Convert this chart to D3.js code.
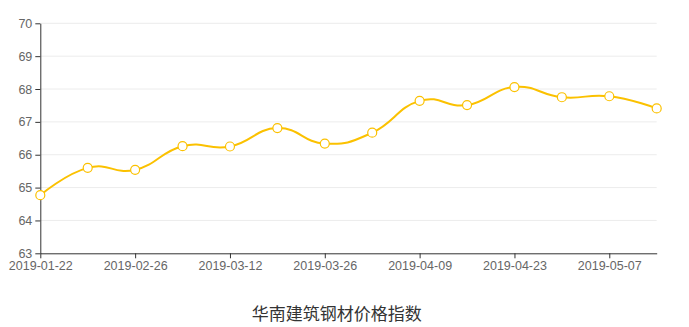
<!DOCTYPE html>
<html>
<head>
<meta charset="utf-8">
<script src="https://cdn.jsdelivr.net/npm/d3@7"></script>
<style>
  html, body { margin: 0; padding: 0; background: #fff; }
  svg { display: block; font-family: "Noto Sans CJK SC", "Noto Sans", sans-serif; }
</style>
</head>
<body>
<div id="visualization"></div>
<script>
// weekly dates (category axis, every 2nd label shown)
const dates = ['2019-01-22', '2019-02-19', '2019-02-26', '2019-03-05', '2019-03-12', '2019-03-19', '2019-03-26',
  '2019-04-02', '2019-04-09', '2019-04-16', '2019-04-23', '2019-04-30', '2019-05-07', '2019-05-14'];
const indexValues = [64.77, 65.60, 65.54, 66.26, 66.25, 66.81, 66.34, 66.67, 67.64, 67.51, 68.06, 67.75, 67.78, 67.41];
const yTicks = [63, 64, 65, 66, 67, 68, 69, 70];
const chartTitle = '华南建筑钢材价格指数';

const width = 689, height = 327;
const margin = { top: 23.3, right: 32.3, bottom: 73.7, left: 40.3 };
const lineColor = '#fbc100';

const svg = d3.select('#visualization')
  .append('svg')
  .attr('width', width)
  .attr('height', height);

const x = d3.scalePoint()
  .domain(dates)
  .range([margin.left, width - margin.right]);

const y = d3.scaleLinear()
  .domain([63, 70])
  .range([height - margin.bottom, margin.top]);

// horizontal split lines
svg.append('g')
  .selectAll('line')
  .data(yTicks.slice(1))
  .join('line')
  .attr('x1', margin.left)
  .attr('x2', width - margin.right)
  .attr('y1', d => y(d))
  .attr('y2', d => y(d))
  .attr('stroke', '#ececec')
  .attr('stroke-width', 1);

// y axis
const yAxis = svg.append('g')
  .attr('transform', `translate(${margin.left},0)`)
  .call(d3.axisLeft(y)
    .tickValues(yTicks)
    .tickFormat(d3.format('d'))
    .tickSize(5)
    .tickPadding(3)
    .tickSizeOuter(0));

// x axis, label every second category
const xAxis = svg.append('g')
  .attr('transform', `translate(0,${height - margin.bottom})`)
  .call(d3.axisBottom(x)
    .tickValues(dates.filter((d, i) => i % 2 === 0))
    .tickSize(5)
    .tickPadding(3)
    .tickSizeOuter(0));

[yAxis, xAxis].forEach(g => {
  g.select('.domain').attr('stroke', '#333');
  g.selectAll('.tick line').attr('stroke', '#333');
  g.selectAll('.tick text')
    .attr('fill', '#666')
    .style('font-size', '12.5px');
});

// smoothed line (echarts-like smoothing)
const line = d3.line()
  .x((d, i) => x(dates[i]))
  .y(d => y(d))
  .curve(d3.curveCardinal.tension(-0.4));

svg.append('path')
  .datum(indexValues)
  .attr('fill', 'none')
  .attr('stroke', lineColor)
  .attr('stroke-width', 2)
  .attr('d', line);

svg.append('g')
  .selectAll('circle')
  .data(indexValues)
  .join('circle')
  .attr('cx', (d, i) => x(dates[i]))
  .attr('cy', d => y(d))
  .attr('r', 4.5)
  .attr('fill', '#fff')
  .attr('stroke', lineColor)
  .attr('stroke-width', 1.2);

// title at the bottom
svg.append('text')
  .attr('x', 336.7)
  .attr('y', 312)
  .attr('text-anchor', 'middle')
  .attr('dominant-baseline', 'central')
  .attr('fill', '#333')
  .style('font-size', '17px')
  .text(chartTitle);
</script>
</body>
</html>
